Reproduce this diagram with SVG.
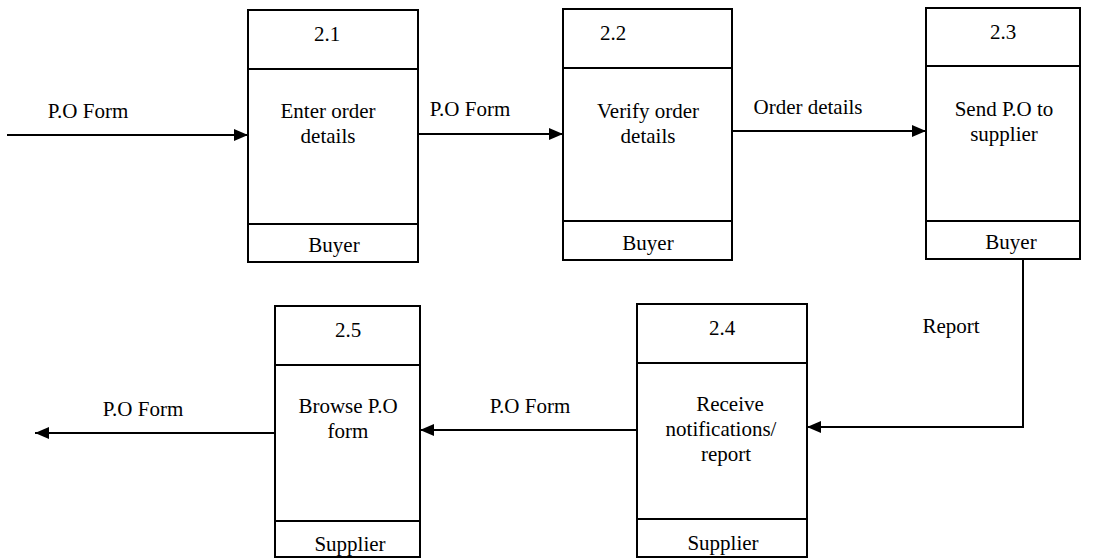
<svg xmlns="http://www.w3.org/2000/svg" width="1094" height="560" viewBox="0 0 1094 560">
<style>
.box{fill:none;stroke:#000;stroke-width:2}
.ln{stroke:#000;stroke-width:2;fill:none}
text{font-family:"Liberation Serif","Times New Roman",serif;font-size:21px;fill:#000;text-anchor:middle}
.flow{stroke:#000;stroke-width:2;fill:none;marker-end:url(#ah)}
</style>
<defs>
<marker id="ah" markerWidth="14" markerHeight="12" refX="14" refY="6" orient="auto" markerUnits="userSpaceOnUse">
<path d="M0,0 L14,6 L0,12 Z" fill="#000"/>
</marker>
</defs>
<rect width="1094" height="560" fill="#fff"/>
<g id="connectors">
<path class="flow" d="M7,135 L248,135"/>
<path class="flow" d="M418,134 L563,134"/>
<path class="flow" d="M732,131 L926,131"/>
<path class="flow" d="M1023,258 L1023,427 L807,427"/>
<path class="flow" d="M637,430 L420,430"/>
<path class="flow" d="M275,433 L35,433"/>
<text x="88" y="118">P.O Form</text>
<text x="470" y="116">P.O Form</text>
<text x="808" y="114">Order details</text>
<text x="951" y="333">Report</text>
<text x="530" y="413">P.O Form</text>
<text x="143" y="416">P.O Form</text>
</g>
<g id="n21">
<rect class="box" x="248" y="10" width="170" height="252"/>
<line class="ln" x1="248" y1="69" x2="418" y2="69"/>
<line class="ln" x1="248" y1="224" x2="418" y2="224"/>
<text x="327" y="41">2.1</text>
<text x="328" y="118">Enter order</text>
<text x="328" y="143">details</text>
<text x="334" y="252">Buyer</text>
</g>
<g id="n22">
<rect class="box" x="563" y="9" width="169" height="251"/>
<line class="ln" x1="563" y1="68" x2="732" y2="68"/>
<line class="ln" x1="563" y1="221" x2="732" y2="221"/>
<text x="613" y="40">2.2</text>
<text x="648" y="118">Verify order</text>
<text x="648" y="143">details</text>
<text x="648" y="250">Buyer</text>
</g>
<g id="n23">
<rect class="box" x="926" y="8" width="154" height="251"/>
<line class="ln" x1="926" y1="66" x2="1080" y2="66"/>
<line class="ln" x1="926" y1="221" x2="1080" y2="221"/>
<text x="1003" y="39">2.3</text>
<text x="1004" y="116">Send P.O to</text>
<text x="1004" y="141">supplier</text>
<text x="1011" y="249">Buyer</text>
</g>
<g id="n25">
<rect class="box" x="275" y="306" width="145" height="251"/>
<line class="ln" x1="275" y1="365" x2="420" y2="365"/>
<line class="ln" x1="275" y1="521" x2="420" y2="521"/>
<text x="348" y="337">2.5</text>
<text x="348" y="413">Browse P.O</text>
<text x="348" y="438">form</text>
<text x="350" y="551">Supplier</text>
</g>
<g id="n24">
<rect class="box" x="637" y="304" width="170" height="253"/>
<line class="ln" x1="637" y1="363" x2="807" y2="363"/>
<line class="ln" x1="637" y1="519" x2="807" y2="519"/>
<text x="722" y="335">2.4</text>
<text x="730" y="411">Receive</text>
<text x="721" y="436">notifications/</text>
<text x="726" y="461">report</text>
<text x="723" y="550">Supplier</text>
</g>
</svg>
